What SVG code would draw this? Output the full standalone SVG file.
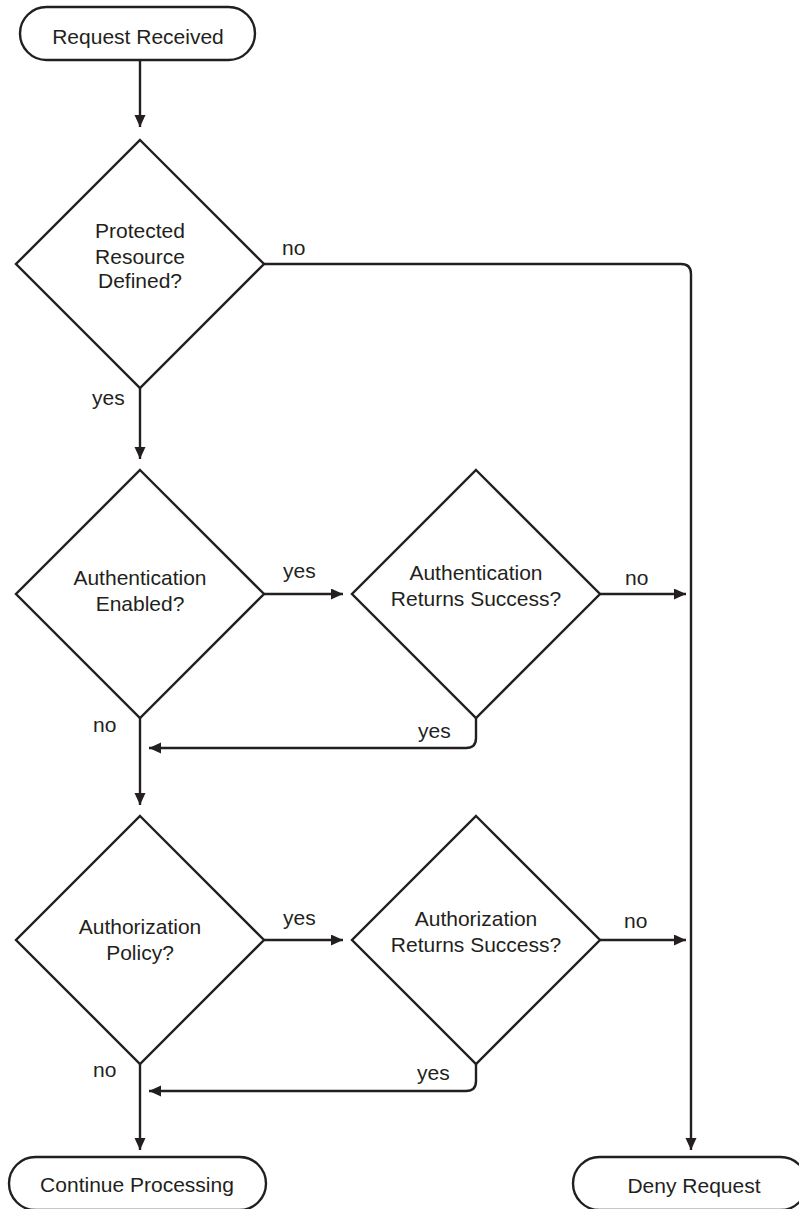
<svg xmlns="http://www.w3.org/2000/svg" width="799" height="1209" viewBox="0 0 799 1209">
<style>
  .shape { fill: #ffffff; stroke: #231f20; stroke-width: 2.4; }
  .conn { fill: none; stroke: #231f20; stroke-width: 2.4; }
  text { font-family: "Liberation Sans", Arial, sans-serif; font-size: 21px; fill: #231f20; }
  .c { text-anchor: middle; }
</style>
<defs>
  <marker id="arrow" markerUnits="userSpaceOnUse" markerWidth="14" markerHeight="12" refX="12" refY="5.5" orient="auto">
    <path d="M0,0 L12,5.5 L0,11 z" fill="#231f20"/>
  </marker>
</defs>
<rect x="0" y="0" width="799" height="1209" fill="#ffffff"/>

<g id="connectors">
  <path class="conn" d="M140,60 L140,127" marker-end="url(#arrow)"/>
  <path class="conn" d="M264,264 L681,264 Q691,264 691,274 L691,1150" marker-end="url(#arrow)"/>
  <path class="conn" d="M140,388 L140,459" marker-end="url(#arrow)"/>
  <path class="conn" d="M264,594 L343,594" marker-end="url(#arrow)"/>
  <path class="conn" d="M600,594 L686,594" marker-end="url(#arrow)"/>
  <path class="conn" d="M476,718 L476,738 Q476,748 466,748 L149,748" marker-end="url(#arrow)"/>
  <path class="conn" d="M140,718 L140,805" marker-end="url(#arrow)"/>
  <path class="conn" d="M264,940 L343,940" marker-end="url(#arrow)"/>
  <path class="conn" d="M600,940 L686,940" marker-end="url(#arrow)"/>
  <path class="conn" d="M476,1064 L476,1081 Q476,1091 466,1091 L149,1091" marker-end="url(#arrow)"/>
  <path class="conn" d="M140,1064 L140,1150" marker-end="url(#arrow)"/>
  <text x="282" y="255">no</text>
  <text x="92" y="405">yes</text>
  <text x="283" y="578">yes</text>
  <text x="625" y="585">no</text>
  <text x="418" y="738">yes</text>
  <text x="93" y="732">no</text>
  <text x="283" y="925">yes</text>
  <text x="624" y="928">no</text>
  <text x="417" y="1080">yes</text>
  <text x="93" y="1077">no</text>
</g>

<g id="start">
  <rect class="shape" x="20" y="7" width="235" height="53" rx="26.5" ry="26.5"/>
  <text class="c" x="138" y="44">Request Received</text>
</g>

<g id="protected">
  <polygon class="shape" points="140,140 264,264 140,388 16,264"/>
  <text class="c" x="140" y="238">Protected</text>
  <text class="c" x="140" y="264">Resource</text>
  <text class="c" x="140" y="288">Defined?</text>
</g>

<g id="authn-enabled">
  <polygon class="shape" points="140,470 264,594 140,718 16,594"/>
  <text class="c" x="140" y="585">Authentication</text>
  <text class="c" x="140" y="611">Enabled?</text>
</g>

<g id="authn-success">
  <polygon class="shape" points="476,470 600,594 476,718 352,594"/>
  <text class="c" x="476" y="580">Authentication</text>
  <text class="c" x="476" y="606">Returns Success?</text>
</g>

<g id="authz-policy">
  <polygon class="shape" points="140,816 264,940 140,1064 16,940"/>
  <text class="c" x="140" y="934">Authorization</text>
  <text class="c" x="140" y="960">Policy?</text>
</g>

<g id="authz-success">
  <polygon class="shape" points="476,816 600,940 476,1064 352,940"/>
  <text class="c" x="476" y="926">Authorization</text>
  <text class="c" x="476" y="952">Returns Success?</text>
</g>

<g id="continue">
  <rect class="shape" x="9" y="1157" width="257" height="53" rx="26.5" ry="26.5"/>
  <text class="c" x="137" y="1192">Continue Processing</text>
</g>

<g id="deny">
  <rect class="shape" x="573" y="1157" width="234" height="53" rx="26.5" ry="26.5"/>
  <text class="c" x="694" y="1193">Deny Request</text>
</g>
</svg>
